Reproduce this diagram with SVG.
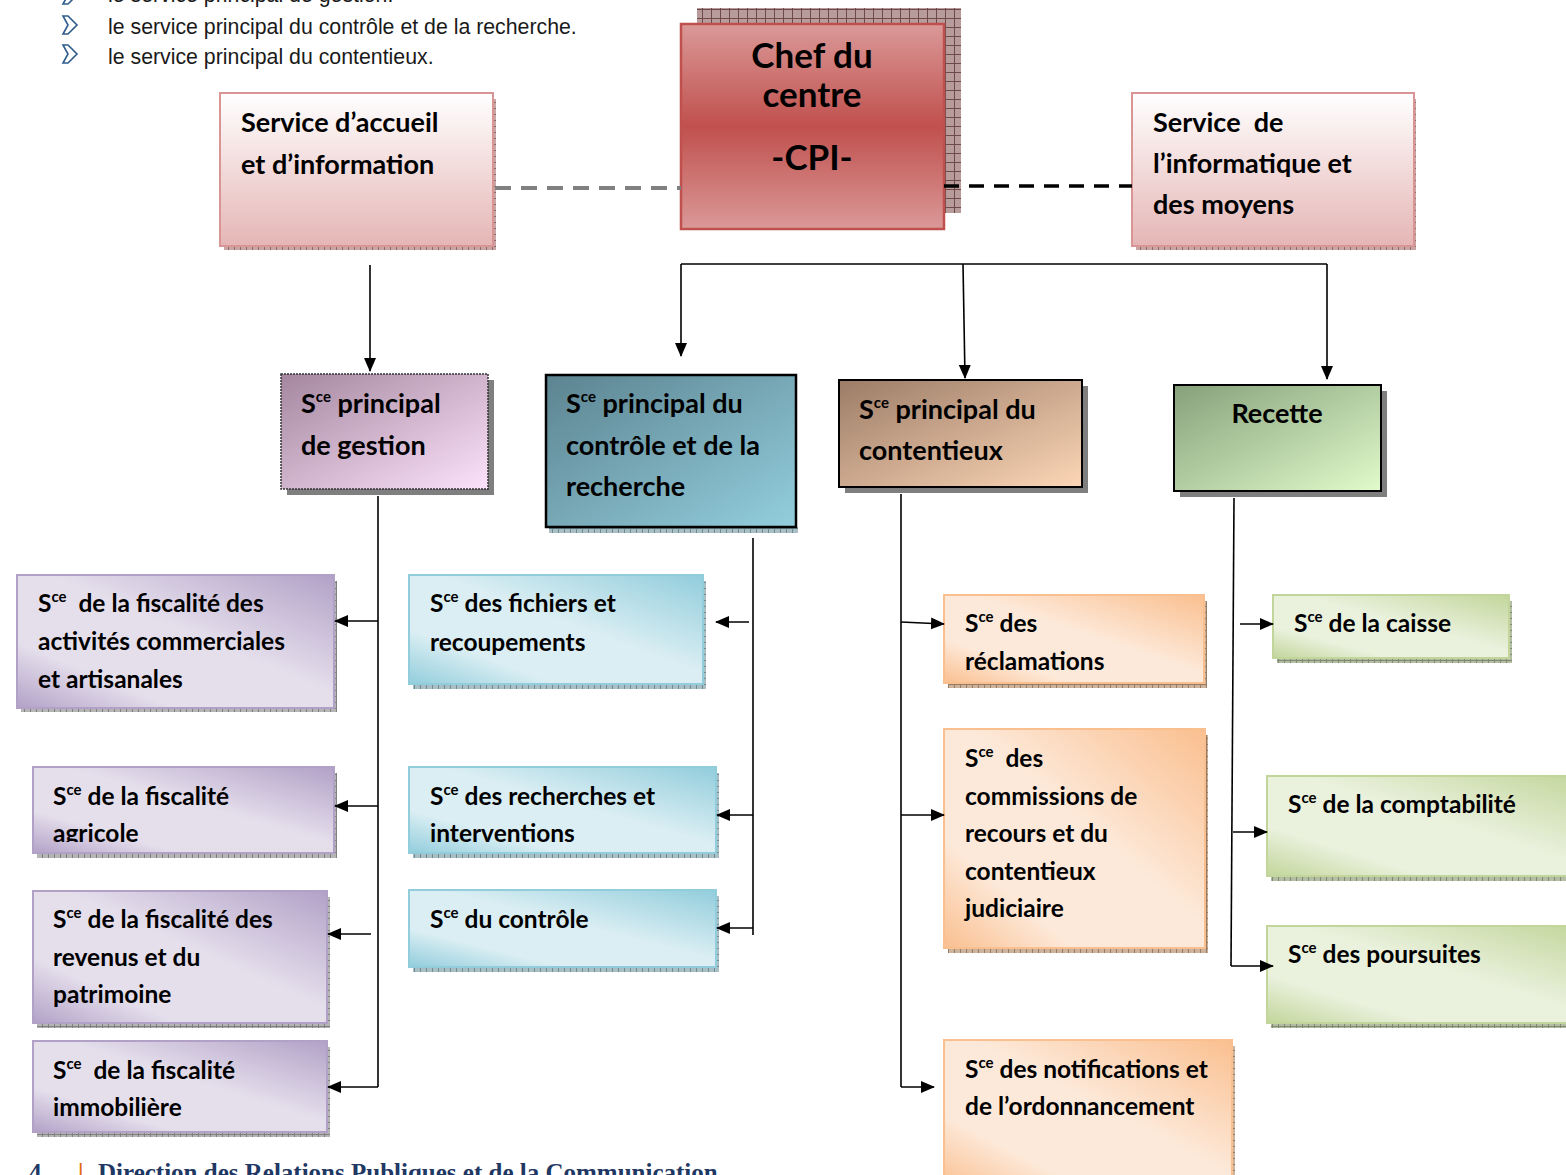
<svg xmlns="http://www.w3.org/2000/svg" width="1566" height="1175" viewBox="0 0 1566 1175">
<defs>
<style>
.t{font-family:Lato,"Open Sans","Liberation Sans",sans-serif;font-weight:bold;fill:#000}
.big{font-size:27px}
.leaf{font-size:24.5px}
.sup{font-size:15px}
.ln{stroke:#000;stroke-width:1.6;fill:none}
.la{stroke:#000;stroke-width:1.6;fill:none;marker-end:url(#ah)}
.body{font-family:"Liberation Sans",Arial,sans-serif;font-size:21.3px;fill:#1a1a1a}
</style>
<marker id="ah" markerWidth="14" markerHeight="14" refX="13" refY="7" orient="auto" markerUnits="userSpaceOnUse"><path d="M0,1 L14,7 L0,13 Z" fill="#000"/></marker>
<pattern id="hChef" width="9" height="9" patternUnits="userSpaceOnUse"><rect width="9" height="9" fill="#B89C9C"/><path d="M0,0.5 H9 M0.5,0 V9" stroke="#6E4A4A" stroke-width="1"/></pattern>
<pattern id="hPink" width="6" height="6" patternUnits="userSpaceOnUse"><rect width="6" height="6" fill="#C9A5A5"/><path d="M0,0.5 H6 M0.5,0 V6" stroke="#8E6A6A" stroke-width="1"/></pattern>
<pattern id="hGray" width="6" height="6" patternUnits="userSpaceOnUse"><rect width="6" height="6" fill="#B5B5B5"/><path d="M0,0.5 H6 M0.5,0 V6" stroke="#808080" stroke-width="1"/></pattern>
<pattern id="hBlue" width="6" height="6" patternUnits="userSpaceOnUse"><rect width="6" height="6" fill="#A9BFC5"/><path d="M0,0.5 H6 M0.5,0 V6" stroke="#6E8C94" stroke-width="1"/></pattern>
<pattern id="hOr" width="6" height="6" patternUnits="userSpaceOnUse"><rect width="6" height="6" fill="#CDB29C"/><path d="M0,0.5 H6 M0.5,0 V6" stroke="#957A64" stroke-width="1"/></pattern>
<pattern id="hGr" width="6" height="6" patternUnits="userSpaceOnUse"><rect width="6" height="6" fill="#B3BDA3"/><path d="M0,0.5 H6 M0.5,0 V6" stroke="#7F8A70" stroke-width="1"/></pattern>
<linearGradient id="gChef" x1="0" y1="0" x2="0" y2="1"><stop offset="0" stop-color="#DA9998"/><stop offset="0.5" stop-color="#C0504D"/><stop offset="1" stop-color="#DA9998"/></linearGradient>
<linearGradient id="gPink" x1="0" y1="0" x2="0" y2="1"><stop offset="0" stop-color="#FFFFFF"/><stop offset="1" stop-color="#E5B6B5"/></linearGradient>
<linearGradient id="gGes" x1="0" y1="0" x2="1" y2="1"><stop offset="0" stop-color="#A4879F"/><stop offset="1" stop-color="#FDE2FB"/></linearGradient>
<linearGradient id="gCtl" x1="0" y1="0" x2="1" y2="1"><stop offset="0" stop-color="#5C8390"/><stop offset="1" stop-color="#93CEDD"/></linearGradient>
<linearGradient id="gCnt" x1="0" y1="0" x2="1" y2="1"><stop offset="0" stop-color="#9C7C67"/><stop offset="1" stop-color="#FCD6B6"/></linearGradient>
<linearGradient id="gRec" x1="0" y1="0" x2="1" y2="1"><stop offset="0" stop-color="#86A07B"/><stop offset="1" stop-color="#E1FBCB"/></linearGradient>
<linearGradient id="gPur" x1="1" y1="0" x2="0" y2="1"><stop offset="0" stop-color="#B2A1C7"/><stop offset="0.45" stop-color="#E5DFEC"/><stop offset="0.75" stop-color="#E5DFEC"/><stop offset="1" stop-color="#B2A1C7"/></linearGradient>
<linearGradient id="gBlu" x1="1" y1="0" x2="0" y2="1"><stop offset="0" stop-color="#92CDDC"/><stop offset="0.45" stop-color="#DAEEF3"/><stop offset="0.75" stop-color="#DAEEF3"/><stop offset="1" stop-color="#92CDDC"/></linearGradient>
<linearGradient id="gOra" x1="1" y1="0" x2="0" y2="1"><stop offset="0" stop-color="#FABF8F"/><stop offset="0.45" stop-color="#FDE9D9"/><stop offset="0.75" stop-color="#FDE9D9"/><stop offset="1" stop-color="#FABF8F"/></linearGradient>
<linearGradient id="gGrn" x1="1" y1="0" x2="0" y2="1"><stop offset="0" stop-color="#C2D69B"/><stop offset="0.45" stop-color="#EAF1DD"/><stop offset="0.75" stop-color="#EAF1DD"/><stop offset="1" stop-color="#C2D69B"/></linearGradient>
<clipPath id="cAgr"><rect x="0" y="760" width="400" height="82"/></clipPath>
</defs>
<rect width="1566" height="1175" fill="#FFFFFF"/>

<g id="intro">
<path d="M63,-14 h5 l9,9 l-9,9 h-5 l5,-9 z" fill="#fff" stroke="#2E5C8A" stroke-width="1.6"/>
<text class="body" x="108" y="2">le service principal de gestion.</text>
<path d="M63,16 h5 l9,9 l-9,9 h-5 l5,-9 z" fill="#fff" stroke="#2E5C8A" stroke-width="1.6"/>
<text class="body" x="108" y="34">le service principal du contrôle et de la recherche.</text>
<path d="M63,45 h5 l9,9 l-9,9 h-5 l5,-9 z" fill="#fff" stroke="#2E5C8A" stroke-width="1.6"/>
<text class="body" x="108" y="64">le service principal du contentieux.</text>
</g>

<g id="chef">
<rect x="697" y="8" width="264" height="205" fill="url(#hChef)"/>
<rect x="681" y="24" width="263" height="205" fill="url(#gChef)" stroke="#C0504D" stroke-width="2.5"/>
<text class="t" font-size="35" x="812" y="68" text-anchor="middle">Chef du</text>
<text class="t" font-size="35" x="812" y="107" text-anchor="middle">centre</text>
<text class="t" font-size="35" x="812" y="170" text-anchor="middle">-CPI-</text>
</g>

<g id="accueil">
<rect x="224" y="99" width="272" height="151" fill="url(#hPink)"/>
<rect x="220" y="93" width="273" height="153" fill="url(#gPink)" stroke="#D99594" stroke-width="2"/>
<text class="t big" x="241" y="132">Service d’accueil</text>
<text class="t big" x="241" y="174">et d’information</text>
</g>

<g id="informatique">
<rect x="1136" y="99" width="280" height="151" fill="url(#hPink)"/>
<rect x="1132" y="93" width="282" height="153" fill="url(#gPink)" stroke="#D99594" stroke-width="2"/>
<text class="t big" x="1153" y="132" xml:space="preserve">Service  de</text>
<text class="t big" x="1153" y="173">l’informatique et</text>
<text class="t big" x="1153" y="214">des moyens</text>
</g>

<g id="gestion">
<rect x="287" y="380" width="207" height="115" fill="#7F7F7F"/>
<rect x="281" y="374" width="207" height="115" fill="url(#gGes)" stroke="#333" stroke-width="1.5" stroke-dasharray="2,1"/>
<text class="t big" x="301" y="413">S<tspan class="sup" dy="-11">ce</tspan><tspan dy="11"> principal</tspan></text>
<text class="t big" x="301" y="455">de gestion</text>
</g>

<g id="controle">
<rect x="549" y="527" width="249" height="6" fill="url(#hBlue)"/>
<rect x="546" y="375" width="250" height="152" fill="url(#gCtl)" stroke="#000" stroke-width="2.5"/>
<text class="t big" x="566" y="413">S<tspan class="sup" dy="-11">ce</tspan><tspan dy="11"> principal du</tspan></text>
<text class="t big" x="566" y="455">contrôle et de la</text>
<text class="t big" x="566" y="496">recherche</text>
</g>

<g id="contentieux">
<rect x="845" y="386" width="243" height="107" fill="#7F7F7F"/>
<rect x="839" y="380" width="243" height="107" fill="url(#gCnt)" stroke="#000" stroke-width="2"/>
<text class="t big" x="859" y="419">S<tspan class="sup" dy="-11">ce</tspan><tspan dy="11"> principal du</tspan></text>
<text class="t big" x="859" y="460">contentieux</text>
</g>

<g id="recette">
<rect x="1180" y="391" width="207" height="106" fill="#7F7F7F"/>
<rect x="1174" y="385" width="207" height="106" fill="url(#gRec)" stroke="#000" stroke-width="2"/>
<text class="t big" x="1277" y="423" text-anchor="middle">Recette</text>
</g>

<g id="fisc-commerciales">
<rect x="21" y="581" width="316" height="131" fill="url(#hGray)"/>
<rect x="17" y="575" width="317" height="133" fill="url(#gPur)" stroke="#B2A1C7" stroke-width="2"/>
<text class="t leaf" x="38" y="612">S<tspan class="sup" dy="-10">ce</tspan><tspan dy="10" xml:space="preserve">  de la fiscalité des</tspan></text>
<text class="t leaf" x="38" y="650">activités commerciales</text>
<text class="t leaf" x="38" y="688">et artisanales</text>
</g>

<g id="fisc-agricole">
<rect x="37" y="773" width="300" height="85" fill="url(#hGray)"/>
<rect x="33" y="767" width="301" height="86" fill="url(#gPur)" stroke="#B2A1C7" stroke-width="2"/>
<text class="t leaf" x="53" y="805">S<tspan class="sup" dy="-10">ce</tspan><tspan dy="10"> de la fiscalité</tspan></text>
<text class="t leaf" x="53" y="842" clip-path="url(#cAgr)">agricole</text>
</g>

<g id="fisc-revenus">
<rect x="37" y="897" width="293" height="131" fill="url(#hGray)"/>
<rect x="33" y="891" width="294" height="132" fill="url(#gPur)" stroke="#B2A1C7" stroke-width="2"/>
<text class="t leaf" x="53" y="928">S<tspan class="sup" dy="-10">ce</tspan><tspan dy="10"> de la fiscalité des</tspan></text>
<text class="t leaf" x="53" y="966">revenus et du</text>
<text class="t leaf" x="53" y="1003">patrimoine</text>
</g>

<g id="fisc-immobiliere">
<rect x="37" y="1047" width="293" height="90" fill="url(#hGray)"/>
<rect x="33" y="1041" width="294" height="91" fill="url(#gPur)" stroke="#B2A1C7" stroke-width="2"/>
<text class="t leaf" x="53" y="1079">S<tspan class="sup" dy="-10">ce</tspan><tspan dy="10" xml:space="preserve">  de la fiscalité</tspan></text>
<text class="t leaf" x="53" y="1116">immobilière</text>
</g>

<g id="fichiers">
<rect x="413" y="581" width="293" height="108" fill="url(#hBlue)"/>
<rect x="409" y="575" width="294" height="109" fill="url(#gBlu)" stroke="#92CDDC" stroke-width="2"/>
<text class="t leaf" x="430" y="612">S<tspan class="sup" dy="-10">ce</tspan><tspan dy="10"> des fichiers et</tspan></text>
<text class="t leaf" x="430" y="651">recoupements</text>
</g>

<g id="recherches">
<rect x="413" y="773" width="306" height="85" fill="url(#hBlue)"/>
<rect x="409" y="767" width="307" height="86" fill="url(#gBlu)" stroke="#92CDDC" stroke-width="2"/>
<text class="t leaf" x="430" y="805">S<tspan class="sup" dy="-10">ce</tspan><tspan dy="10"> des recherches et</tspan></text>
<text class="t leaf" x="430" y="842">interventions</text>
</g>

<g id="du-controle">
<rect x="413" y="896" width="306" height="76" fill="url(#hBlue)"/>
<rect x="409" y="890" width="307" height="77" fill="url(#gBlu)" stroke="#92CDDC" stroke-width="2"/>
<text class="t leaf" x="430" y="928">S<tspan class="sup" dy="-10">ce</tspan><tspan dy="10"> du contrôle</tspan></text>
</g>

<g id="reclamations">
<rect x="948" y="601" width="259" height="87" fill="url(#hOr)"/>
<rect x="944" y="595" width="260" height="88" fill="url(#gOra)" stroke="#FABF8F" stroke-width="2"/>
<text class="t leaf" x="965" y="632">S<tspan class="sup" dy="-10">ce</tspan><tspan dy="10"> des</tspan></text>
<text class="t leaf" x="965" y="670">réclamations</text>
</g>

<g id="commissions">
<rect x="948" y="735" width="260" height="218" fill="url(#hOr)"/>
<rect x="944" y="729" width="261" height="219" fill="url(#gOra)" stroke="#FABF8F" stroke-width="2"/>
<text class="t leaf" x="965" y="767">S<tspan class="sup" dy="-10">ce</tspan><tspan dy="10" xml:space="preserve">  des</tspan></text>
<text class="t leaf" x="965" y="805">commissions de</text>
<text class="t leaf" x="965" y="842">recours et du</text>
<text class="t leaf" x="965" y="880">contentieux</text>
<text class="t leaf" x="965" y="917">judiciaire</text>
</g>

<g id="notifications">
<rect x="948" y="1046" width="287" height="140" fill="url(#hOr)"/>
<rect x="944" y="1040" width="288" height="150" fill="url(#gOra)" stroke="#FABF8F" stroke-width="2"/>
<text class="t leaf" x="965" y="1078">S<tspan class="sup" dy="-10">ce</tspan><tspan dy="10"> des notifications et</tspan></text>
<text class="t leaf" x="965" y="1115">de l’ordonnancement</text>
</g>

<g id="caisse">
<rect x="1277" y="601" width="235" height="62" fill="url(#hGr)"/>
<rect x="1273" y="595" width="236" height="63" fill="url(#gGrn)" stroke="#C2D69B" stroke-width="2"/>
<text class="t leaf" x="1294" y="632">S<tspan class="sup" dy="-10">ce</tspan><tspan dy="10"> de la caisse</tspan></text>
</g>

<g id="comptabilite">
<rect x="1271" y="782" width="320" height="99" fill="url(#hGr)"/>
<rect x="1267" y="776" width="320" height="100" fill="url(#gGrn)" stroke="#C2D69B" stroke-width="2"/>
<text class="t leaf" x="1288" y="813">S<tspan class="sup" dy="-10">ce</tspan><tspan dy="10"> de la comptabilité</tspan></text>
</g>

<g id="poursuites">
<rect x="1271" y="932" width="320" height="96" fill="url(#hGr)"/>
<rect x="1267" y="926" width="320" height="97" fill="url(#gGrn)" stroke="#C2D69B" stroke-width="2"/>
<text class="t leaf" x="1288" y="963">S<tspan class="sup" dy="-10">ce</tspan><tspan dy="10"> des poursuites</tspan></text>
</g>

<g id="connectors">
<line x1="495" y1="188" x2="681" y2="188" stroke="#808080" stroke-width="4" stroke-dasharray="16,10"/>
<line x1="944" y1="186" x2="1132" y2="186" stroke="#000" stroke-width="3.5" stroke-dasharray="15,10"/>
<line class="la" x1="370" y1="265" x2="370" y2="371"/>
<line class="ln" x1="681" y1="264" x2="1327" y2="264"/>
<line class="la" x1="681" y1="264" x2="681" y2="356"/>
<line class="la" x1="963" y1="264" x2="965" y2="378"/>
<line class="la" x1="1327" y1="264" x2="1327" y2="379"/>
<line class="ln" x1="378" y1="496" x2="378" y2="1087"/>
<line class="la" x1="378" y1="621" x2="335" y2="621"/>
<line class="la" x1="378" y1="806" x2="335" y2="806"/>
<line class="la" x1="371" y1="934" x2="328" y2="934"/>
<line class="la" x1="378" y1="1087" x2="328" y2="1087"/>
<line class="ln" x1="753" y1="538" x2="753" y2="935"/>
<line class="la" x1="749" y1="622" x2="716" y2="622"/>
<line class="la" x1="753" y1="815" x2="717" y2="815"/>
<line class="la" x1="753" y1="928" x2="717" y2="928"/>
<line class="ln" x1="901" y1="494" x2="901" y2="1087"/>
<line class="la" x1="901" y1="622" x2="944" y2="624"/>
<line class="la" x1="901" y1="815" x2="944" y2="815"/>
<line class="la" x1="901" y1="1087" x2="934" y2="1087"/>
<line class="ln" x1="1234" y1="498" x2="1231" y2="966"/>
<line class="la" x1="1240" y1="624" x2="1273" y2="624"/>
<line class="la" x1="1233" y1="832" x2="1267" y2="832"/>
<line class="la" x1="1231" y1="966" x2="1273" y2="966"/>
</g>

<g id="footer" font-family="'Liberation Serif','Times New Roman',serif" font-weight="bold" font-size="25">
<text x="29" y="1181" fill="#1F3864">4</text>
<text x="78" y="1181" fill="#E36C0A">|</text>
<text x="98" y="1181" fill="#1F3864">Direction des Relations Publiques et de la Communication</text>
</g>
</svg>
